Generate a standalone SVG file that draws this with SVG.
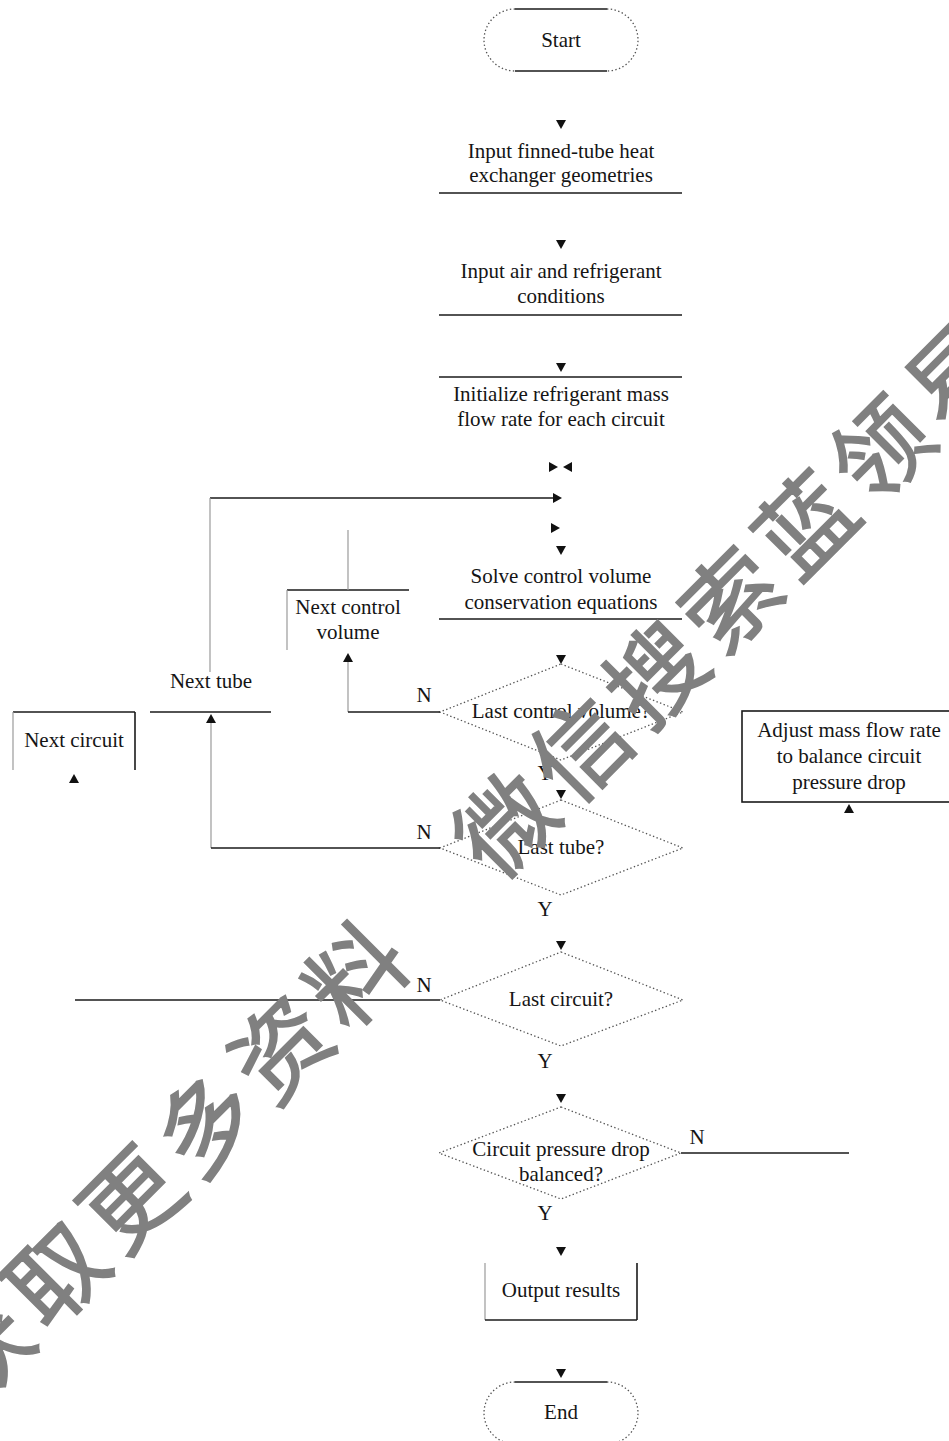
<svg xmlns="http://www.w3.org/2000/svg" xmlns:xlink="http://www.w3.org/1999/xlink" width="949" height="1441" viewBox="0 0 949 1441">
<style>
  text.t { font-family: "Liberation Serif", "Times New Roman", serif; font-size: 21px; fill: #151515; text-anchor: middle; }
  .ln { stroke: #1a1a1a; stroke-width: 1.6; fill: none; }
  .lg { stroke: #9a9a9a; stroke-width: 1.2; fill: none; }
  .dot { stroke: #555; stroke-width: 1.3; stroke-dasharray: 1.4 2.4; fill: none; }
  .ah { fill: #111; }
  text.wm { font-family: "Noto Sans CJK SC", "Noto Sans CJK JP", sans-serif; font-size: 96px; fill: #808080; stroke: #808080; stroke-width: 1.8; text-anchor: middle; dominant-baseline: central; }
</style>
<defs>
  <polygon id="ad" class="ah" points="-5,-5 5,-5 0,4"/>
  <polygon id="au" class="ah" points="-5,5 5,5 0,-4"/>
  <polygon id="ar" class="ah" points="-4,-5 -4,5 5,0"/>
  <polygon id="al" class="ah" points="4,-5 4,5 -5,0"/>
</defs>
<rect width="949" height="1441" fill="#ffffff"/>

<g id="start">
  <line class="ln" x1="515" y1="9" x2="607" y2="9"/>
  <line class="ln" x1="515" y1="71" x2="607" y2="71"/>
  <path class="dot" d="M515,9 A31,31 0 0 0 515,71"/>
  <path class="dot" d="M607,9 A31,31 0 0 1 607,71"/>
  <text class="t" x="561" y="47">Start</text>
</g>

<g id="input-geometry">
  <line class="ln" x1="439" y1="193" x2="682" y2="193"/>
  <text class="t" x="561" y="158">Input finned-tube heat</text>
  <text class="t" x="561" y="182">exchanger geometries</text>
</g>

<g id="input-conditions">
  <line class="ln" x1="439" y1="315" x2="682" y2="315"/>
  <text class="t" x="561" y="278">Input air and refrigerant</text>
  <text class="t" x="561" y="303">conditions</text>
</g>

<g id="initialize">
  <line class="ln" x1="439" y1="377" x2="682" y2="377"/>
  <text class="t" x="561" y="401">Initialize refrigerant mass</text>
  <text class="t" x="561" y="426">flow rate for each circuit</text>
</g>

<g id="solve">
  <line class="ln" x1="439" y1="619" x2="682" y2="619"/>
  <text class="t" x="561" y="583">Solve control volume</text>
  <text class="t" x="561" y="609">conservation equations</text>
</g>

<g id="next-control-volume">
  <line class="ln" x1="287" y1="590" x2="409" y2="590"/>
  <line class="lg" x1="287" y1="590" x2="287" y2="650"/>
  <text class="t" x="348" y="614">Next control</text>
  <text class="t" x="348" y="639">volume</text>
</g>

<g id="next-tube">
  <line class="ln" x1="150" y1="712" x2="271" y2="712"/>
  <text class="t" x="211" y="688">Next tube</text>
</g>

<g id="next-circuit">
  <line class="ln" x1="13" y1="712" x2="135" y2="712"/>
  <line class="ln" x1="135" y1="712" x2="135" y2="770"/>
  <line class="lg" x1="13" y1="712" x2="13" y2="770" stroke="#dddddd"/>
  <text class="t" x="74" y="747">Next circuit</text>
</g>

<g id="last-control-volume">
  <polygon class="dot" points="561,664 683,712 561,760 440,712"/>
  <text class="t" x="561" y="718">Last control volume?</text>
</g>

<g id="last-tube">
  <polygon class="dot" points="561,800 683,848 561,895 440,848"/>
  <text class="t" x="561" y="854">Last tube?</text>
</g>

<g id="last-circuit">
  <polygon class="dot" points="561,952 683,1000 561,1046 440,1000"/>
  <text class="t" x="561" y="1006">Last circuit?</text>
</g>

<g id="pressure-balanced">
  <polygon class="dot" points="561,1107 681,1153 561,1199 439,1153"/>
  <text class="t" x="561" y="1156">Circuit pressure drop</text>
  <text class="t" x="561" y="1181">balanced?</text>
</g>

<g id="adjust">
  <rect class="ln" x="742" y="711" width="215" height="91"/>
  <text class="t" x="849" y="737">Adjust mass flow rate</text>
  <text class="t" x="849" y="763">to balance circuit</text>
  <text class="t" x="849" y="789">pressure drop</text>
</g>

<g id="output">
  <line class="lg" x1="485" y1="1263" x2="485" y2="1320" stroke="#e2e2e2"/>
  <line class="ln" x1="637" y1="1263" x2="637" y2="1320"/>
  <line class="ln" x1="485" y1="1320" x2="637" y2="1320"/>
  <text class="t" x="561" y="1297">Output results</text>
</g>

<g id="end">
  <line class="ln" x1="515" y1="1382" x2="607" y2="1382"/>
  <path class="dot" d="M515,1382 A31,31 0 0 0 515,1444"/>
  <path class="dot" d="M607,1382 A31,31 0 0 1 607,1444"/>
  <text class="t" x="561" y="1419">End</text>
</g>

<g id="connectors">
  <line class="ln" x1="210" y1="498" x2="553" y2="498"/>
  <line class="lg" x1="210" y1="498" x2="210" y2="672"/>
  <line class="lg" x1="348" y1="530" x2="348" y2="590"/>
  <line class="lg" x1="348" y1="662" x2="348" y2="712"/>
  <line class="ln" x1="348" y1="712" x2="440" y2="712"/>
  <line class="lg" x1="211" y1="722" x2="211" y2="848"/>
  <line class="ln" x1="211" y1="848" x2="440" y2="848"/>
  <line class="ln" x1="75" y1="1000" x2="440" y2="1000"/>
  <line class="ln" x1="681" y1="1153" x2="849" y2="1153"/>
  <use xlink:href="#ad" x="561" y="125"/>
  <use xlink:href="#ad" x="561" y="245"/>
  <use xlink:href="#ad" x="561" y="368"/>
  <use xlink:href="#ar" x="553" y="467"/>
  <use xlink:href="#al" x="568" y="467"/>
  <use xlink:href="#ar" x="557" y="498"/>
  <use xlink:href="#ar" x="555" y="528"/>
  <use xlink:href="#ad" x="561" y="551"/>
  <use xlink:href="#ad" x="561" y="660"/>
  <use xlink:href="#ad" x="561" y="795"/>
  <use xlink:href="#ad" x="561" y="946"/>
  <use xlink:href="#ad" x="561" y="1099"/>
  <use xlink:href="#ad" x="561" y="1252"/>
  <use xlink:href="#ad" x="561" y="1374"/>
  <use xlink:href="#au" x="348" y="657"/>
  <use xlink:href="#au" x="211" y="718"/>
  <use xlink:href="#au" x="74" y="778"/>
  <use xlink:href="#au" x="849" y="808"/>
  <text class="t" x="424" y="702">N</text>
  <text class="t" x="545" y="780">Y</text>
  <text class="t" x="424" y="839">N</text>
  <text class="t" x="545" y="916">Y</text>
  <text class="t" x="424" y="992">N</text>
  <text class="t" x="545" y="1068">Y</text>
  <text class="t" x="697" y="1144">N</text>
  <text class="t" x="545" y="1220">Y</text>
</g>

<g id="watermark">
  <text class="wm" transform="translate(52,1270) rotate(-45)" x="-106 0 106 212 318 424 530 636 742 848 954 1060 1166 1272">获取更多资料　微信搜索蓝领易</text>
</g>
</svg>
